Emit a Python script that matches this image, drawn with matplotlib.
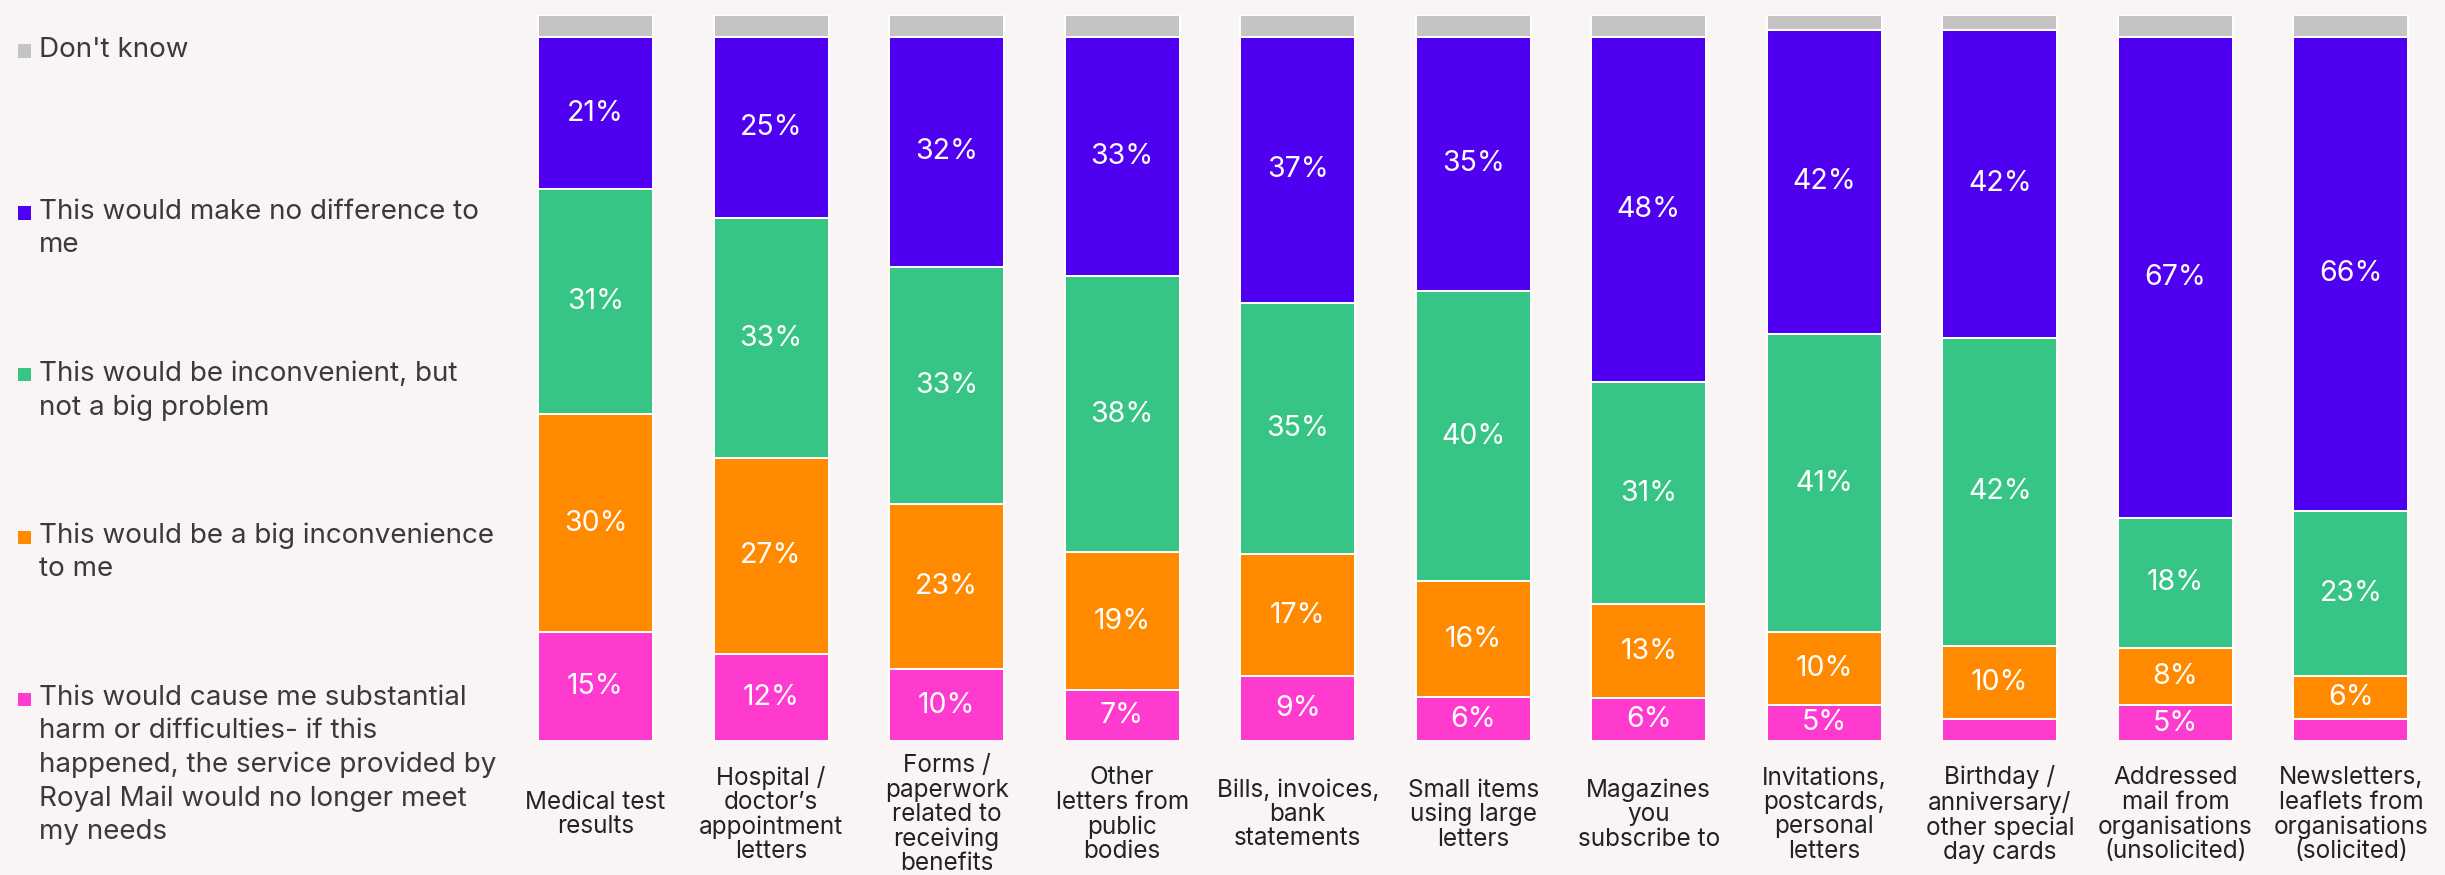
import matplotlib
matplotlib.use("Agg")
import matplotlib.pyplot as plt
from matplotlib.patches import Rectangle
import numpy as np

# ---- data -------------------------------------------------------------
categories = [
    "Medical test\nresults",
    "Hospital /\ndoctor\u2019s\nappointment\nletters",
    "Forms /\npaperwork\nrelated to\nreceiving\nbenefits",
    "Other\nletters from\npublic\nbodies",
    "Bills, invoices,\nbank\nstatements",
    "Small items\nusing large\nletters",
    "Magazines\nyou\nsubscribe to",
    "Invitations,\npostcards,\npersonal\nletters",
    "Birthday /\nanniversary/\nother special\nday cards",
    "Addressed\nmail from\norganisations\n(unsolicited)",
    "Newsletters,\nleaflets from\norganisations\n(solicited)",
]

harm = [15, 12, 10, 7, 9, 6, 6, 5, 3, 5, 3]
big_inconvenience = [30, 27, 23, 19, 17, 16, 13, 10, 10, 8, 6]
inconvenient = [31, 33, 33, 38, 35, 40, 31, 41, 42, 18, 23]
no_difference = [21, 25, 32, 33, 37, 35, 48, 42, 42, 67, 66]
dont_know = [3, 3, 3, 3, 3, 3, 3, 2, 2, 3, 3]

series_names = [
    "This would cause me substantial\nharm or difficulties- if this\nhappened, the service provided by\nRoyal Mail would no longer meet\nmy needs",
    "This would be a big inconvenience\nto me",
    "This would be inconvenient, but\nnot a big problem",
    "This would make no difference to\nme",
    "Don't know",
]
series_values = [harm, big_inconvenience, inconvenient, no_difference, dont_know]
series_colors = ["#FF3BCF", "#FF8A00", "#36C584", "#5000F0", "#C4C4C4"]
show_labels = [True, True, True, True, False]
min_label_value = 4

# ---- figure -----------------------------------------------------------
W, H = 2445, 875
BG = "#F8F5F4"
TEXT = "#3A3A3A"
plt.rcParams["font.family"] = ["Inter", "DejaVu Sans"]

fig = plt.figure(figsize=(W / 100, H / 100), dpi=100, facecolor=BG)
ax = fig.add_axes([507.75 / W, 1 - 741 / H, (2438.75 - 507.75) / W, (741 - 15) / H])
ax.set_facecolor(BG)

x = np.arange(len(categories))
data = np.array(series_values, dtype=float)
totals = data.sum(axis=0)
shares = data / totals * 100.0  # 100% stacked

bottom = np.zeros(len(categories))
for vals, raw, color, lab in zip(shares, data, series_colors, show_labels):
    ax.bar(x, vals, width=0.655, bottom=bottom, color=color,
           edgecolor="white", linewidth=1.4)
    if lab:
        for xi, b, v, r in zip(x, bottom, vals, raw):
            if r >= min_label_value:
                ax.text(xi, b + v / 2, f"{int(r)}%", ha="center", va="center",
                        color="white", fontsize=20.5)
    bottom += vals

ax.set_xlim(-0.5, len(categories) - 0.5)
ax.set_ylim(0, 100)
ax.set_yticks([])
ax.set_xticks(x)
ax.set_xticklabels(categories, fontsize=17.5, color="#222222",
                   va="center", ha="center", linespacing=1.07)
ax.tick_params(axis="x", length=0, pad=53)
for s in ax.spines.values():
    s.set_visible(False)

# ---- legend (top = "Don't know", bottom = harm) ------------------------
legend_baselines = [705, 543, 381, 219, 57]
line_step = 33.5
for name, color, base in zip(series_names, series_colors, legend_baselines):
    fig.patches.append(Rectangle((18 / W, 1 - (base + 0.5) / H), 13 / W, 13 / H,
                                 transform=fig.transFigure, facecolor=color,
                                 edgecolor="none"))
    for k, line in enumerate(name.split("\n")):
        fig.text(39 / W, 1 - (base + k * line_step) / H, line, ha="left",
                 va="baseline", fontsize=20, color=TEXT)

fig.savefig("out.png", dpi=100, facecolor=BG)
